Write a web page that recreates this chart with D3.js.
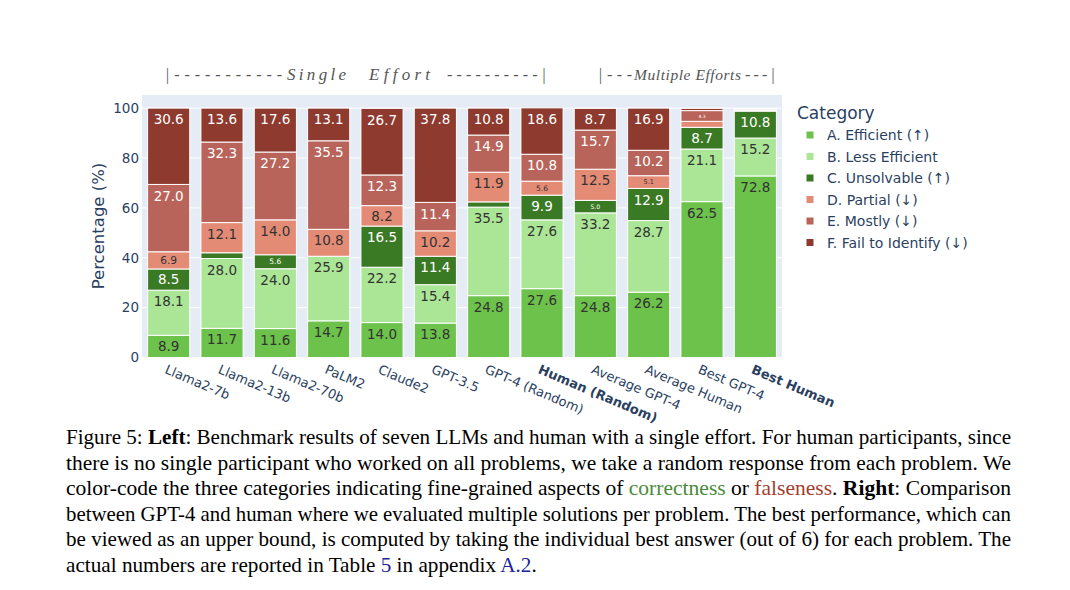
<!DOCTYPE html>
<html>
<head>
<meta charset="utf-8">
<script src="https://cdn.jsdelivr.net/npm/d3@7"></script>
<style>
  html, body { margin: 0; padding: 0; background: #fff; }
  svg { display: block; }
</style>
</head>
<body>
<svg id="chart" width="1070" height="590"></svg>
<script>
// ---------------- data ----------------
const categories = ["Llama2-7b","Llama2-13b","Llama2-70b","PaLM2","Claude2","GPT-3.5","GPT-4 (Random)","Human (Random)","Average GPT-4","Average Human","Best GPT-4","Best Human"];
const boldCategories = ["Human (Random)","Best Human"];
const seriesNames = ["A. Efficient (↑)","B. Less Efficient","C. Unsolvable (↑)","D. Partial (↓)","E. Mostly (↓)","F. Fail to Identify (↓)"];
const efficient     = [8.9, 11.7, 11.6, 14.7, 14.0, 13.8, 24.8, 27.6, 24.8, 26.2, 62.5, 72.8];
const lessEfficient = [18.1, 28.0, 24.0, 25.9, 22.2, 15.4, 35.5, 27.6, 33.2, 28.7, 21.1, 15.2];
const unsolvable    = [8.5, 2.3, 5.6, 0.0, 16.5, 11.4, 2.1, 9.9, 5.0, 12.9, 8.7, 10.8];
const partial       = [6.9, 12.1, 14.0, 10.8, 8.2, 10.2, 11.9, 5.6, 12.5, 5.1, 2.4, 0.4];
const mostly        = [27.0, 32.3, 27.2, 35.5, 12.3, 11.4, 14.9, 10.8, 15.7, 10.2, 4.3, 0.4];
const failIdentify  = [30.6, 13.6, 17.6, 13.1, 26.7, 37.8, 10.8, 18.6, 8.7, 16.9, 0.9, 0.3];
const yTicks = [0, 20, 40, 60, 80, 100];

const seriesColors = ["#6cc24a", "#abe696", "#3b7a25", "#e48b76", "#b8645a", "#8e3a2e"];
const labelColors  = ["#333333", "#333333", "#ffffff", "#333333", "#ffffff", "#ffffff"];

// caption: lines of [text, style]
const captionLines = [
  [["Figure 5: ", ""], ["Left", "b"], [": Benchmark results of seven LLMs and human with a single effort. For human participants, since", ""]],
  [["there is no single participant who worked on all problems, we take a random response from each problem. We", ""]],
  [["color-code the three categories indicating fine-grained aspects of ", ""], ["correctness", "g"], [" or ", ""], ["falseness", "r"], [". ", ""], ["Right", "b"], [": Comparison", ""]],
  [["between GPT-4 and human where we evaluated multiple solutions per problem. The best performance, which can", ""]],
  [["be viewed as an upper bound, is computed by taking the individual best answer (out of 6) for each problem. The", ""]],
  [["actual numbers are reported in Table ", ""], ["5", "l"], [" in appendix ", ""], ["A.2", "l"], [".", ""]]
];

// ---------------- layout ----------------
const svg = d3.select("#chart");
const plot = { left: 142, right: 782, top: 95, bottom: 357.5 };
const sansFont = "'DejaVu Sans', Verdana, sans-serif";
const axisColor = "#2a3f5f";

const x = d3.scaleBand().domain(categories).range([plot.left, plot.right]).paddingInner(0.21).paddingOuter(0.105);
const y = d3.scaleLinear().domain([0, 105.26]).range([plot.bottom, plot.top]);

// background
svg.append("rect").attr("x", plot.left).attr("y", plot.top)
  .attr("width", plot.right - plot.left).attr("height", plot.bottom - plot.top)
  .attr("fill", "#e5ecf6");

// grid
svg.append("g").selectAll("line").data(yTicks).join("line")
  .attr("x1", plot.left).attr("x2", plot.right)
  .attr("y1", d => y(d)).attr("y2", d => y(d))
  .attr("stroke", "#ffffff").attr("stroke-width", 1);

// y axis
const yAxis = d3.axisLeft(y).tickValues(yTicks).tickSize(0).tickPadding(3);
const yg = svg.append("g").attr("transform", `translate(${plot.left},0)`).call(yAxis);
yg.select(".domain").remove();
yg.selectAll("text").attr("font-family", sansFont).attr("font-size", 13.5).attr("fill", axisColor);

svg.append("text").attr("transform", "translate(104,226) rotate(-90)")
  .attr("text-anchor", "middle").attr("font-family", sansFont).attr("font-size", 16.5)
  .attr("fill", axisColor).text("Percentage (%)");

// stacked data
const valuesBySeries = [efficient, lessEfficient, unsolvable, partial, mostly, failIdentify];
const rows = categories.map((c, i) => {
  const r = { cat: c };
  seriesNames.forEach((s, k) => r[s] = valuesBySeries[k][i]);
  return r;
});
const stacked = d3.stack().keys(seriesNames)(rows);

const layers = svg.append("g").selectAll("g").data(stacked).join("g")
  .attr("fill", (d, k) => seriesColors[k]);

layers.selectAll("rect").data(d => d).join("rect")
  .attr("x", d => x(d.data.cat))
  .attr("width", x.bandwidth())
  .attr("y", d => y(d[1]))
  .attr("height", d => Math.max(0, y(d[0]) - y(d[1])))
  .attr("stroke", "#ffffff").attr("stroke-width", d => (d[1] - d[0]) > 0 ? 1 : 0);

// labels
stacked.forEach((layer, k) => {
  layer.forEach(d => {
    const v = d[1] - d[0];
    const top = y(d[1]);
    const h = y(d[0]) - y(d[1]);
    let fs = Math.min(13.5, (h - 6) * 0.95);
    if (fs < 3.5) return;
    const center = top + Math.min(11.3, h / 2);
    svg.append("text")
      .attr("x", x(d.data.cat) + x.bandwidth() / 2)
      .attr("y", center + 0.36 * fs)
      .attr("text-anchor", "middle")
      .attr("font-family", sansFont)
      .attr("font-size", fs)
      .attr("fill", labelColors[k])
      .text(v.toFixed(1));
  });
});

// x labels
svg.append("g").selectAll("text").data(categories).join("text")
  .attr("transform", d => `translate(${x(d) + x.bandwidth() / 2 - 1},364) rotate(23)`)
  .attr("x", 0).attr("y", 0).attr("dy", "0.74em")
  .attr("text-anchor", "start")
  .attr("font-family", sansFont).attr("font-size", 13)
  .attr("font-weight", d => boldCategories.includes(d) ? "bold" : "normal")
  .attr("fill", axisColor)
  .text(d => d);

// legend
const lg = svg.append("g");
lg.append("text").attr("x", 797).attr("y", 119).attr("font-family", sansFont)
  .attr("font-size", 17).attr("fill", axisColor).text("Category");
seriesNames.forEach((s, k) => {
  const cy = 135 + k * 21.5;
  lg.append("rect").attr("x", 806.5).attr("y", cy - 3.5).attr("width", 7).attr("height", 7)
    .attr("fill", seriesColors[k]);
  lg.append("text").attr("x", 827).attr("y", cy + 5).attr("font-family", sansFont)
    .attr("font-size", 14).attr("fill", axisColor).text(s);
});

// top annotations
const annFont = "'Liberation Serif', 'DejaVu Serif', serif";
const annPieces = [
  ["|-----------", 165, 117, 16],
  ["Single", 287, 59, 17],
  ["Effort", 369, 61, 17],
  ["----------|", 447, 99, 16],
  ["|---", 598, 34, 16],
  ["Multiple Efforts", 634, 107, 15.5],
  ["---|", 745, 30, 16]
];
annPieces.forEach(p => {
  svg.append("text").attr("x", p[1]).attr("y", 80)
    .attr("font-family", annFont).attr("font-style", "italic")
    .attr("font-size", p[3]).attr("fill", "#555")
    .attr("textLength", p[2]).attr("lengthAdjust", "spacing")
    .text(p[0]);
});

// caption
const capFont = "'Liberation Serif', 'Times New Roman', serif";
const capLeft = 66, capRight = 1011;
const styleColor = { "": "#000", b: "#000", g: "#4a8a3a", r: "#a33e2f", l: "#21219c" };
const capNodes = [];
captionLines.forEach((line, i) => {
  const t = svg.append("text").attr("x", capLeft).attr("y", 444 + i * 25.6)
    .attr("font-family", capFont).attr("font-size", 21).attr("fill", "#000");
  line.forEach(seg => {
    t.append("tspan").text(seg[0])
      .attr("font-weight", seg[1] === "b" ? "bold" : "normal")
      .attr("fill", styleColor[seg[1]]);
  });
  capNodes.push(t);
});
let scaleSum = 0;
capNodes.forEach((t, i) => {
  if (i < capNodes.length - 1) {
    const len = t.node().getComputedTextLength();
    scaleSum += (capRight - capLeft) / len;
    t.attr("textLength", capRight - capLeft).attr("lengthAdjust", "spacingAndGlyphs");
  }
});
const avgScale = scaleSum / (capNodes.length - 1);
const lastT = capNodes[capNodes.length - 1];
lastT.attr("textLength", lastT.node().getComputedTextLength() * avgScale).attr("lengthAdjust", "spacingAndGlyphs");
</script>
</body>
</html>
